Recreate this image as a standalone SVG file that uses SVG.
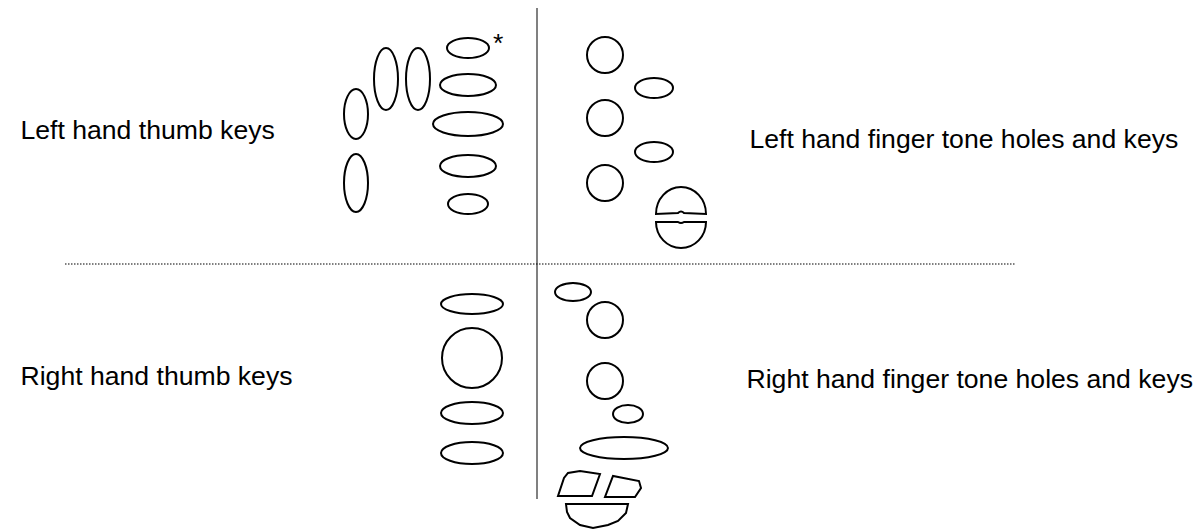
<svg xmlns="http://www.w3.org/2000/svg" width="1198" height="531" viewBox="0 0 1198 531">
<style>
.k{fill:none;stroke:#000;stroke-width:2}
text{font-family:"Liberation Sans",Arial,sans-serif;font-size:26.6px;fill:#000}
</style>
<rect width="1198" height="531" fill="#fff"/>
<g id="connectors">
<line x1="537" y1="8" x2="537" y2="499" stroke="#808080" stroke-width="2"/>
<line x1="65" y1="264" x2="1016" y2="264" stroke="#000" stroke-width="1.2" stroke-dasharray="1.5 1.5"/>
</g>
<g id="labels">
<text x="20.5" y="138.5">Left hand thumb keys</text>
<text x="749.5" y="148">Left hand finger tone holes and keys</text>
<text x="20.5" y="385">Right hand thumb keys</text>
<text x="746.5" y="388">Right hand finger tone holes and keys</text>
<text x="493" y="52">*</text>
</g>
<g id="left-thumb-keys">
<ellipse class="k" cx="356" cy="114" rx="12" ry="25"/>
<ellipse class="k" cx="386" cy="79" rx="12" ry="31"/>
<ellipse class="k" cx="418" cy="79" rx="12" ry="31"/>
<ellipse class="k" cx="356" cy="183" rx="12" ry="29"/>
<ellipse class="k" cx="468" cy="48" rx="21" ry="10"/>
<ellipse class="k" cx="468" cy="85" rx="28" ry="11"/>
<ellipse class="k" cx="468" cy="124" rx="35" ry="12"/>
<ellipse class="k" cx="468" cy="166" rx="28" ry="11"/>
<ellipse class="k" cx="468" cy="204" rx="20" ry="10"/>
</g>
<g id="left-finger-keys">
<circle class="k" cx="605" cy="55" r="18"/>
<circle class="k" cx="605" cy="118" r="18"/>
<circle class="k" cx="605" cy="183" r="18"/>
<ellipse class="k" cx="654" cy="88" rx="19" ry="10"/>
<ellipse class="k" cx="654" cy="152" rx="19" ry="10"/>
<path class="k" d="M656 214A25 27 0 0 1 706 214L684 213Q681 210 678 213Z"/>
<path class="k" d="M656 222A25 26 0 0 0 706 222L684 222Q681 224 678 222Z"/>
</g>
<g id="right-thumb-keys">
<ellipse class="k" cx="472" cy="304" rx="31" ry="10"/>
<circle class="k" cx="472" cy="358" r="30"/>
<ellipse class="k" cx="472" cy="413" rx="31" ry="11"/>
<ellipse class="k" cx="472" cy="453" rx="31" ry="11"/>
</g>
<g id="right-finger-keys">
<ellipse class="k" cx="573" cy="292" rx="18" ry="9"/>
<circle class="k" cx="605" cy="320" r="18"/>
<circle class="k" cx="605" cy="381" r="18"/>
<ellipse class="k" cx="628" cy="414" rx="15" ry="9"/>
<ellipse class="k" cx="624" cy="448" rx="44" ry="11"/>
<path class="k" d="M558 496L592 496L600 474L580 471L568 473L564 478Z"/>
<path class="k" d="M605 497L635 497L641 488L639 481L613 476Z"/>
<path class="k" d="M566 504L628 504L626 513L618 521L608 525L593 528L580 525L570 518L567 512Z"/>
</g>
</svg>
